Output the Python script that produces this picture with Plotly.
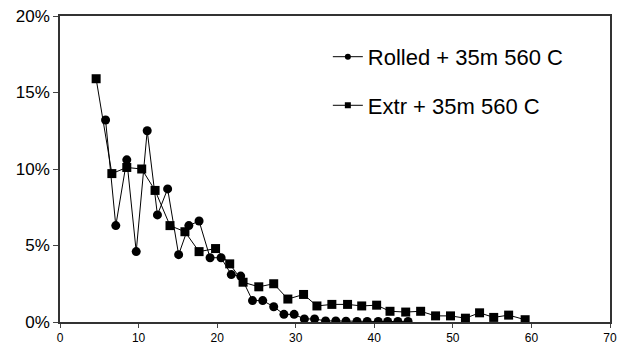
import plotly.graph_objects as go

rolled_x = [5.8, 7.1, 8.5, 9.7, 11.1, 12.4, 13.7, 15.1, 16.4, 17.7, 19.1, 20.5, 21.8, 23.0, 24.5,
            25.8, 27.2, 28.5, 29.8, 31.1, 32.4, 33.8, 35.1, 36.4, 37.8, 39.1, 40.5, 41.7, 43.0, 44.3]
rolled_y = [13.2, 6.3, 10.6, 4.6, 12.5, 7.0, 8.7, 4.4, 6.3, 6.6, 4.2, 4.2, 3.1, 3.0, 1.4,
            1.4, 1.0, 0.5, 0.5, 0.2, 0.2, 0.07, 0.07, 0.05, 0.03, 0.03, 0.03, 0.03, 0.03, 0.04]

extr_x = [4.6, 6.6, 8.5, 10.4, 12.1, 14.0, 15.9, 17.7, 19.8, 21.6, 23.3, 25.3, 27.2, 29.0, 31.0,
          32.7, 34.6, 36.6, 38.4, 40.3, 42.0, 44.0, 45.9, 47.8, 49.7, 51.6, 53.4, 55.2, 57.1, 59.2]
extr_y = [15.9, 9.7, 10.1, 10.0, 8.6, 6.3, 5.9, 4.6, 4.8, 3.8, 2.6, 2.3, 2.5, 1.5, 1.8,
          1.05, 1.15, 1.15, 1.05, 1.1, 0.7, 0.65, 0.7, 0.4, 0.4, 0.25, 0.6, 0.3, 0.45, 0.15]

names = ["Rolled + 35m 560 C", "Extr + 35m 560 C"]
x_ticks = [0, 10, 20, 30, 40, 50, 60, 70]
y_ticks = [0, 5, 10, 15, 20]
y_tick_labels = ["0%", "5%", "10%", "15%", "20%"]

FONT = "Liberation Sans, Arial, sans-serif"
fig = go.Figure()

fig.add_trace(go.Scatter(x=rolled_x, y=rolled_y, mode="lines+markers", showlegend=False,
                         line=dict(color="black", width=1),
                         marker=dict(symbol="circle", size=9, color="black")))
fig.add_trace(go.Scatter(x=extr_x, y=extr_y, mode="lines+markers", showlegend=False,
                         line=dict(color="black", width=1),
                         marker=dict(symbol="square", size=9, color="black")))
# legend entries
fig.add_trace(go.Scatter(x=[None], y=[None], mode="lines+markers", name=names[0], legendgroup="a",
                         line=dict(color="black", width=1),
                         marker=dict(symbol="circle", size=6, color="black")))
fig.add_trace(go.Scatter(x=[None], y=[None], mode="lines+markers", name=names[1], legendgroup="b",
                         line=dict(color="black", width=1),
                         marker=dict(symbol="square", size=6, color="black")))

fig.update_layout(
    width=626, height=350,
    margin=dict(l=60, r=16, t=16, b=28, autoexpand=False),
    paper_bgcolor="white", plot_bgcolor="white",
    font=dict(family=FONT, color="black"),
    legend=dict(x=0.487, y=0.935, xanchor="left", yanchor="top",
                font=dict(size=22, family=FONT), bgcolor="rgba(0,0,0,0)",
                traceorder="grouped", tracegroupgap=17, itemwidth=30),
    xaxis=dict(range=[0, 70], tickvals=x_ticks, ticks="outside", ticklen=4, tickcolor="#444",
               showgrid=False, zeroline=False, showline=True, linecolor="#333", linewidth=1.5,
               mirror=True, automargin=False, tickfont=dict(size=12, family=FONT)),
    yaxis=dict(range=[0, 20], tickvals=y_ticks, ticktext=y_tick_labels, ticks="outside", ticklen=5,
               tickcolor="#444", showgrid=False, zeroline=False, showline=True, linecolor="#333",
               linewidth=1.5, mirror=True, automargin=False, tickfont=dict(size=17, family=FONT)),
)

fig.write_html("out.html", config={"displayModeBar": False},
               post_script="document.body.style.margin='0';document.body.style.overflow='hidden';")
